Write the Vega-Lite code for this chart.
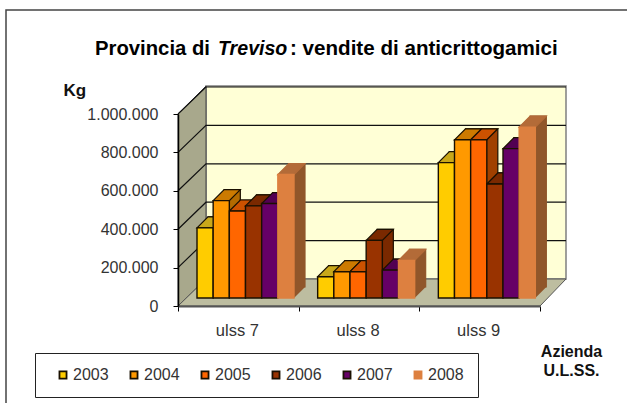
{"$schema":"https://vega.github.io/schema/vega-lite/v6.json","width":627,"height":403,"padding":0,"autosize":{"type":"none"},"background":"#ffffff","config":{"view":{"stroke":null},"font":"Liberation Sans"},
"datasets":{"bars":[
{"ulss":"ulss 7","year":"2003","kg":365000},{"ulss":"ulss 7","year":"2004","kg":507000},{"ulss":"ulss 7","year":"2005","kg":453000},{"ulss":"ulss 7","year":"2006","kg":480000},{"ulss":"ulss 7","year":"2007","kg":492000},{"ulss":"ulss 7","year":"2008","kg":643000},
{"ulss":"ulss 8","year":"2003","kg":111000},{"ulss":"ulss 8","year":"2004","kg":137000},{"ulss":"ulss 8","year":"2005","kg":137000},{"ulss":"ulss 8","year":"2006","kg":300000},{"ulss":"ulss 8","year":"2007","kg":145000},{"ulss":"ulss 8","year":"2008","kg":196000},
{"ulss":"ulss 9","year":"2003","kg":705000},{"ulss":"ulss 9","year":"2004","kg":824000},{"ulss":"ulss 9","year":"2005","kg":824000},{"ulss":"ulss 9","year":"2006","kg":594000},{"ulss":"ulss 9","year":"2007","kg":778000},{"ulss":"ulss 9","year":"2008","kg":890000}],
"frame":[{"ulss":"ulss 8","kg":0}],
"grid":[{"ulss":"ulss 8","kg":200000},{"ulss":"ulss 8","kg":400000},{"ulss":"ulss 8","kg":600000},{"ulss":"ulss 8","kg":800000},{"ulss":"ulss 8","kg":1000000}]},
"encoding":{
"x":{"field":"ulss","type":"nominal","scale":{"domain":["ulss 7","ulss 8","ulss 9"],"range":[178,540],"paddingInner":0,"paddingOuter":0},
"axis":{"offset":-97,"zindex":1,"labelAngle":0,"labelFontSize":16.5,"labelColor":"#333333","labelPadding":11,"labelOffset":-1.5,"tickSize":5,"tickColor":"#000000","domainColor":"#555555","domainWidth":2,"tickBand":"extent","title":["Azienda","U.L.SS."],"titleFontSize":16,"titleFontWeight":"bold","titleColor":"#111111","titleX":571,"titleY":50,"titleLineHeight":19,"titleAlign":"center","titleBaseline":"alphabetic"}},
"y":{"field":"kg","type":"quantitative","stack":null,"scale":{"domain":[0,1000000],"range":[306,114],"nice":false,"zero":false},
"axis":{"offset":-178,"zindex":1,"values":[0,200000,400000,600000,800000,1000000],"labelExpr":"replace(format(datum.value,','),/,/g,'.')","labelFontSize":16,"labelColor":"#333333","labelPadding":15,"tickSize":5,"tickColor":"#000000","domainColor":"#000000","domainWidth":1.5,"grid":false,"title":"Kg","titleFontSize":17,"titleFontWeight":"bold","titleColor":"#111111","titleAngle":0,"titleX":-115,"titleY":95,"titleAlign":"left","titleBaseline":"alphabetic"}}},
"layer":[
{"data":{"name":"frame"},"mark":{"type":"point","filled":false,"opacity":1,"size":4,"shape":"M-353,97 L-353,-296 L268,-296","stroke":"#444444","strokeWidth":1.5}},
{"data":{"name":"frame"},"mark":{"type":"point","filled":true,"opacity":1,"size":4,"shape":"M-153,-27 L207,-27 L207,-220 L-153,-220 Z","fill":"#ffffd6","stroke":"#808080","strokeWidth":1.5}},
{"data":{"name":"frame"},"mark":{"type":"point","filled":true,"opacity":1,"size":4,"shape":"M-181,0 L-153,-27 L-153,-220 L-181,-192 Z","fill":"#a8a88c","stroke":"#444444","strokeWidth":1}},
{"data":{"name":"frame"},"mark":{"type":"point","filled":true,"opacity":1,"size":4,"shape":"M-181,0 L181,0 L207,-27 L-153,-27 Z","fill":"#bdbda0","stroke":"#555555","strokeWidth":1}},
{"data":{"name":"grid"},"mark":{"type":"point","filled":false,"opacity":1,"size":4,"shape":"M-181,0 L-153,-27 L207,-27","stroke":"#111111","strokeWidth":1.2}},
{"data":{"name":"bars"},"mark":{"type":"bar","yOffset":-19,"y2Offset":-19,"strokeWidth":1.2},
"encoding":{"y2":{"datum":0},"xOffset":{"field":"year","type":"nominal","scale":{"type":"band","domain":["2003","2004","2005","2006","2007","2008"],"range":[30,127],"paddingInner":0,"paddingOuter":0}},
"color":{"field":"year","type":"nominal","legend":null,"scale":{"domain":["2003","2004","2005","2006","2007","2008"],"range":["#b38f00","#b36b00","#a04000","#7a2900","#4d004d","#90562a"]}},
"stroke":{"field":"year","type":"nominal","legend":null,"scale":{"domain":["2003","2004","2005","2006","2007","2008"],"range":["#1a1000","#1a1000","#1a1000","#1a1000","#1a1000","#90562a"]}}}},
{"data":{"name":"bars"},"transform":[{"filter":{"field":"year","equal":"2008"}}],"mark":{"type":"point","filled":true,"opacity":1,"size":4,"yOffset":-8,"fill":"#90562a","shape":"M8.08,0 L8.08,-11 L19.08,-11 Z"},
"encoding":{"y":{"datum":0},"xOffset":{"field":"year","type":"nominal","scale":{"type":"band","domain":["2003","2004","2005","2006","2007","2008"],"range":[19,116],"paddingInner":0,"paddingOuter":0}}}},
{"data":{"name":"bars"},"mark":{"type":"point","filled":true,"opacity":1,"size":4,"yOffset":-8,"strokeWidth":1.2,"shape":"M-8.08,0 L8.08,0 L19.08,-11 L2.92,-11 Z"},
"encoding":{"xOffset":{"field":"year","type":"nominal","scale":{"type":"band","domain":["2003","2004","2005","2006","2007","2008"],"range":[19,116],"paddingInner":0,"paddingOuter":0}},
"fill":{"field":"year","type":"nominal","legend":null,"scale":{"domain":["2003","2004","2005","2006","2007","2008"],"range":["#c9a81a","#cc7a00","#cc5200","#7a2900","#520052","#b36b38"]}},
"stroke":{"field":"year","type":"nominal","legend":null,"scale":{"domain":["2003","2004","2005","2006","2007","2008"],"range":["#1a1000","#1a1000","#1a1000","#1a1000","#1a1000","#b36b38"]}}}},
{"data":{"name":"bars"},"mark":{"type":"bar","yOffset":-8,"y2Offset":-8,"strokeWidth":1.4},
"encoding":{"y2":{"datum":0},"xOffset":{"field":"year","type":"nominal","scale":{"type":"band","domain":["2003","2004","2005","2006","2007","2008"],"range":[19,116],"paddingInner":0,"paddingOuter":0}},
"color":{"field":"year","type":"nominal","scale":{"domain":["2003","2004","2005","2006","2007","2008"],"range":["#ffcc00","#ff9900","#ff6600","#993300","#660066","#dd8040"]},
"legend":{"title":null,"orient":"none","legendX":35,"legendY":353,"direction":"horizontal","columns":6,"strokeColor":"#222222","fillColor":"#ffffff","padding":14,"symbolType":"square","symbolSize":50,"symbolStrokeWidth":1.8,"labelFontSize":16,"labelColor":"#333333","labelOffset":2,"columnPadding":11,"symbolOffset":6}},
"stroke":{"field":"year","type":"nominal","scale":{"domain":["2003","2004","2005","2006","2007","2008"],"range":["#1a1000","#1a1000","#1a1000","#1a1000","#1a1000","#dd8040"]},
"legend":{"title":null,"orient":"none","legendX":35,"legendY":353,"direction":"horizontal","columns":6,"strokeColor":"#222222","fillColor":"#ffffff","padding":14,"symbolType":"square","symbolSize":50,"symbolStrokeWidth":1.8,"labelFontSize":16,"labelColor":"#333333","labelOffset":2,"columnPadding":11,"symbolOffset":6}}}},
{"data":{"name":"frame"},"mark":{"type":"text","text":"Provincia di ","font":"Liberation Sans","fontWeight":"bold","fontSize":20.3,"align":"left","baseline":"alphabetic","dx":-264,"dy":-251,"color":"#000000"}},
{"data":{"name":"frame"},"mark":{"type":"text","text":"Treviso","font":"Liberation Sans","fontWeight":"bold","fontStyle":"italic","fontSize":19.6,"align":"left","baseline":"alphabetic","dx":-141,"dy":-251,"color":"#000000"}},
{"data":{"name":"frame"},"mark":{"type":"text","text":": vendite di anticrittogamici","font":"Liberation Sans","fontWeight":"bold","fontSize":20.6,"align":"left","baseline":"alphabetic","dx":-69,"dy":-251,"color":"#000000"}}
],
"resolve":{"scale":{"color":"independent","stroke":"independent","fill":"independent","xOffset":"independent"}}}
